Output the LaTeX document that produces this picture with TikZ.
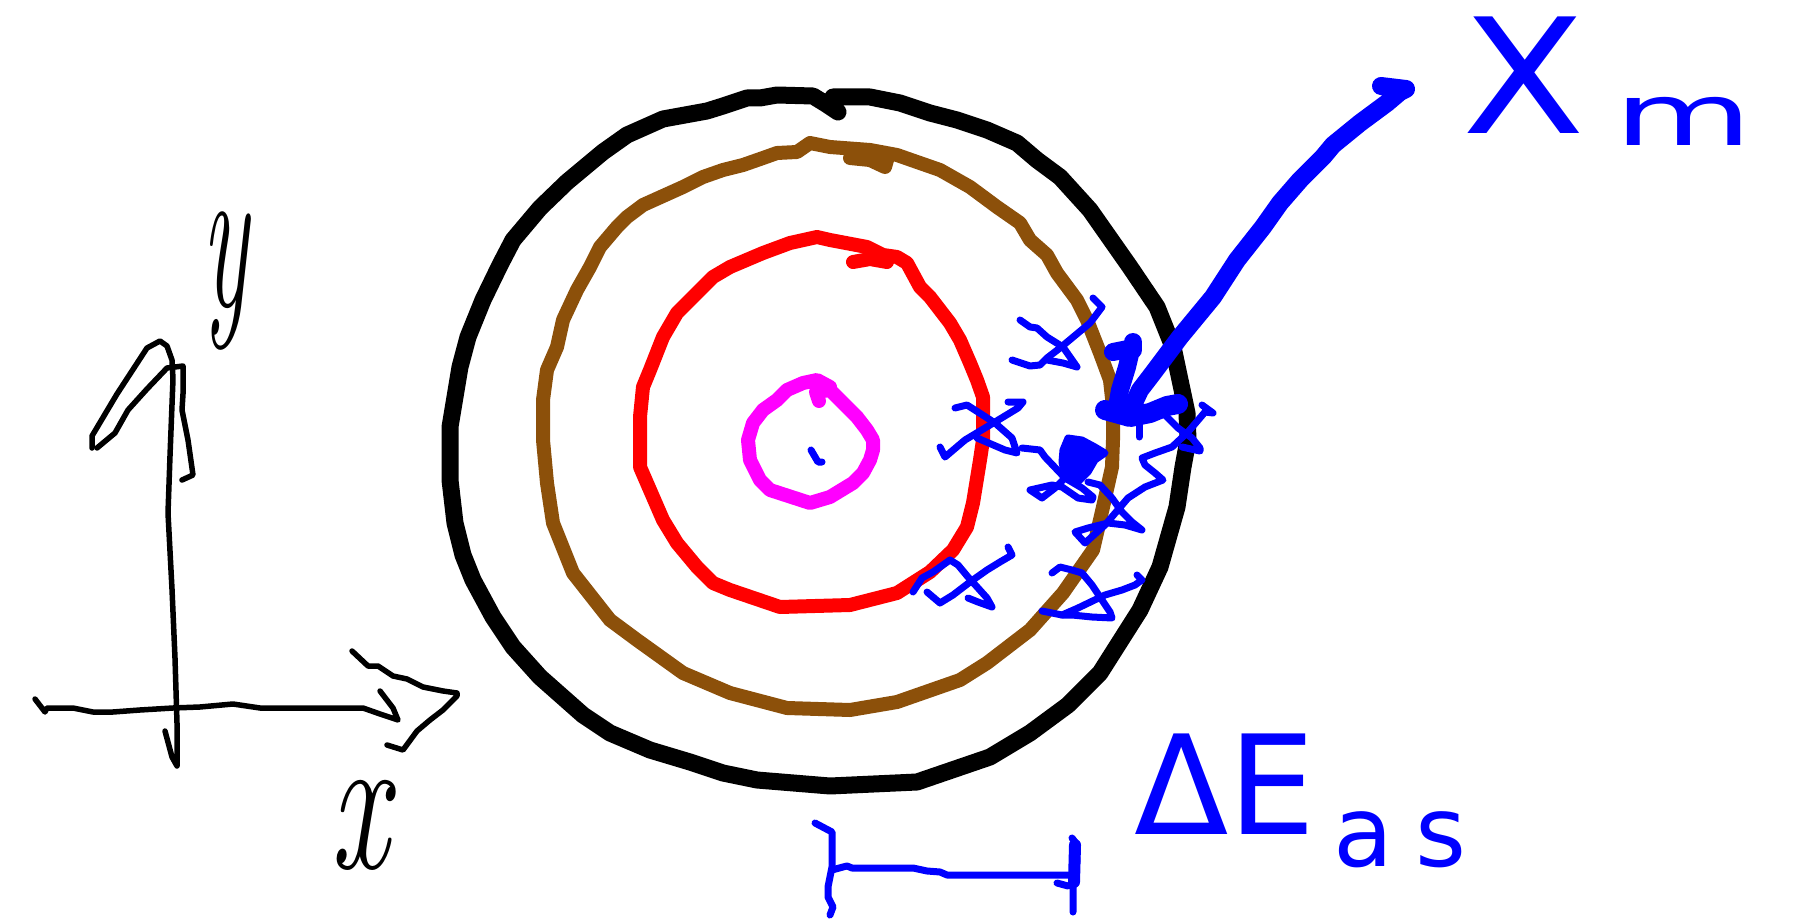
\documentclass[tikz,border=0pt]{standalone}
\usepackage{fontspec}
\newfontfamily\handsans{DejaVu Sans}
\definecolor{sketchbrown}{RGB}{140,80,10}
\definecolor{sketchmagenta}{RGB}{255,0,255}
\definecolor{sketchblue}{RGB}{0,0,255}
\definecolor{sketchred}{RGB}{255,0,0}
\begin{document}
\begin{tikzpicture}[x=1pt,y=-1pt,line cap=round,line join=round,
  outerring/.style={line width=17pt,black},
  midring/.style={line width=14pt,sketchbrown},
  innerring/.style={line width=14pt,sketchred},
  corering/.style={line width=14pt,sketchmagenta},
  pen/.style={line width=7pt,sketchblue},
  bigpen/.style={line width=18pt,sketchblue},
  axispen/.style={line width=5.5pt,black},
  lbl/.style={inner sep=0pt,outer sep=0pt}]
\useasboundingbox (0,0) rectangle (1797,920);

% outer black ring
\draw[outerring] plot coordinates {(838,112) (826,104) (813,96) (777,95) (760,98) (747,98) (723,106) (707,111) (663,119) (627,135) (603,152) (567,182) (540,208) (513,240) (500,265) (483,300) (468,337) (460,367) (455,397) (450,427) (450,480) (455,523) (463,555) (473,580) (493,617) (513,647) (540,677) (583,715) (610,733) (650,750) (690,762) (723,773) (757,780) (830,786) (917,782) (990,757) (1030,733) (1068,705) (1100,673) (1140,610) (1160,567) (1177,507) (1183,467) (1188,440) (1187,413) (1180,380) (1173,347) (1157,307) (1130,267) (1090,210) (1060,177) (1037,160) (1017,143) (987,130) (957,120) (930,113) (900,103) (870,97) (833,97)};

% brown ring
\draw[midring] plot coordinates {(850,158) (870,160) (885,167) (887,160)};
\draw[midring] plot coordinates {(897,155) (870,150) (830,147) (810,143) (797,152) (777,153) (763,158) (743,165) (723,170) (703,177) (683,187) (643,205) (627,217) (617,227) (600,247) (590,267) (577,290) (563,320) (557,347) (547,370) (543,400) (543,440) (547,483) (553,523) (573,573) (610,620) (637,640) (683,673) (730,693) (787,708) (850,710) (897,702) (960,680) (987,663) (1030,630) (1063,593) (1093,550) (1103,507) (1112,467) (1113,440) (1113,407) (1110,380) (1100,353) (1087,320) (1077,300) (1057,273) (1047,255) (1030,240) (1020,223) (997,207) (970,187) (940,170) (917,162) (897,155)};

% red ring
\draw[innerring] plot coordinates {(887,262) (870,259) (853,262)};
\draw[innerring] plot coordinates {(897,257) (883,255) (867,247) (830,240) (817,237) (790,243) (763,253) (730,267) (713,277) (697,293) (677,313) (663,337) (650,370) (643,387) (640,417) (640,467) (663,520) (677,543) (697,567) (713,583) (730,590) (780,607) (850,605) (897,593) (930,572) (953,550) (967,527) (973,503) (980,460) (983,440) (983,413) (983,397) (977,380) (970,363) (960,340) (950,323) (930,297) (920,287) (907,263) (897,257)};

% magenta ring
\draw[corering] plot coordinates {(819,401) (816,392) (830,390) (843,403) (857,417) (867,430) (873,440) (873,450) (870,460) (863,473) (853,483) (830,497) (810,503) (770,490) (760,480) (750,460) (748,440) (753,423) (763,410) (777,400) (787,390) (803,383) (817,380) (830,387)};

% centre tick
\draw[pen] (811,450) -- (818,462) -- (822,462);

% thin blue crosses
\draw[pen] plot coordinates {(1012,360) (1030,366) (1040,365) (1047,358) (1060,348) (1090,323) (1102,307) (1093,298)};
\draw[pen] plot coordinates {(1020,320) (1030,327) (1037,328) (1047,337) (1063,347) (1077,367) (1063,363) (1047,360)};
\draw[pen] plot coordinates {(940,447) (945,457) (965,440) (995,422) (1018,408) (1023,402) (1008,402)};
\draw[pen] plot coordinates {(955,408) (967,405) (978,412) (995,423) (1012,438) (1017,453) (1005,450) (977,438)};
\draw[pen] plot coordinates {(1022,448) (1040,450) (1045,457) (1065,478) (1082,488) (1093,497) (1092,500) (1078,498) (1062,487) (1052,485) (1030,490) (1042,498) (1055,488) (1065,478)};
\filldraw[pen,fill=sketchblue] (1068,438) -- (1082,440) -- (1095,447) -- (1105,453) -- (1095,460) -- (1088,472) -- (1078,482) -- (1065,477) -- (1062,462) -- (1063,450) -- cycle;
\draw[pen] plot coordinates {(1088,482) (1100,485) (1112,498) (1122,512) (1132,522) (1142,530) (1125,525) (1108,523) (1088,528) (1075,532) (1085,543) (1105,525) (1128,498) (1145,487) (1163,480) (1155,473) (1145,465) (1142,458) (1155,453) (1172,447) (1188,432) (1205,412) (1213,413) (1202,405)};
\draw[pen] plot coordinates {(1165,415) (1178,428) (1192,438) (1200,448) (1200,451) (1182,447)};
\draw[pen] plot coordinates {(913,592) (922,578) (933,572) (950,560) (958,565) (968,577) (978,588) (987,598) (992,607) (978,602) (968,598)};
\draw[pen] plot coordinates {(927,592) (940,603) (953,595) (970,582) (987,570) (1000,562) (1012,555) (1008,547)};
\draw[pen] plot coordinates {(1052,573) (1060,567) (1072,570) (1082,573) (1092,585) (1100,597) (1110,612) (1112,618) (1092,617) (1072,615) (1062,615) (1042,611)};
\draw[pen] plot coordinates {(1062,615) (1078,608) (1105,595) (1122,590) (1135,585) (1142,580) (1137,575)};

% thick blue pointer
\draw[bigpen] (1113,352) -- (1133,348);
\draw[bigpen] (1133,342) -- (1133,350);
\draw[bigpen] plot coordinates {(1131,350) (1127,367) (1120,390) (1117,407)};
\draw[line width=20pt,sketchblue] plot coordinates {(1105,410) (1130,417) (1150,413) (1167,406) (1178,404)};
\draw[pen] (1139,418) -- (1139,437);
\draw[bigpen] plot coordinates {(1133,405) (1140,390) (1153,373) (1180,337) (1213,297) (1237,260) (1263,227) (1280,203) (1300,180) (1323,157) (1333,145) (1360,123) (1387,103) (1400,92) (1406,89) (1381,86)};

% axes
\draw[axispen] plot coordinates {(92,448) (92,436) (117,394) (147,348) (160,341) (167,346) (172,360) (173,379) (170,456) (168,513) (172,589) (175,658) (177,723) (177,766) (172,757) (165,731)};
\draw[axispen] plot coordinates {(97,448) (115,433) (128,410) (147,389) (167,368) (183,366) (183,394) (182,410) (188,440) (193,475) (182,480)};
\draw[axispen] plot coordinates {(35,699) (45,712) (47,708) (73,708) (93,712) (113,712) (140,710) (173,708) (200,707) (233,704) (260,708) (363,708) (380,714) (398,720) (393,708) (380,691)};
\draw[axispen] plot coordinates {(352,651) (368,666) (378,666) (393,676) (407,679) (423,687) (443,691) (457,693) (457,696) (443,710) (430,720) (417,731) (403,750) (387,745)};

% scale bar
\draw[pen] plot coordinates {(815,823) (832,832) (832,867) (828,887) (828,897) (833,907) (830,915)};
\draw[pen] plot coordinates {(832,870) (843,867) (847,866) (852,868) (913,868) (927,871) (940,872) (947,875) (1070,875)};
\draw[pen] plot coordinates {(1072,838) (1075,842) (1077,860) (1073,887) (1073,900) (1073,912)};
\draw[line width=12pt,sketchblue] (1075,845) -- (1074,882);
\draw[pen] (1057,883) -- (1068,886);

% labels
\node[lbl,anchor=base west,text=sketchblue,font=\handsans\fontsize{160}{160}\selectfont,xscale=1.12] (xmX) at (1462,134) {X};
\node[lbl,anchor=base west,text=sketchblue,font=\handsans\fontsize{86}{86}\selectfont,xscale=1.65] (xmm) at (1614,146) {m};
\node[lbl,anchor=base west,text=sketchblue,font=\handsans\fontsize{138}{138}\selectfont] (dE) at (1134,834) {ΔE};
\node[lbl,anchor=base west,text=sketchblue,font=\handsans\fontsize{98}{98}\selectfont] (dEsub) at (1333,866) {a\kern 22pt s};
\node[lbl,text=black,font=\itshape\fontsize{215}{215}\selectfont,xscale=0.45] (ylab) at (225,281) {y};
\node[lbl,text=black,font=\itshape\fontsize{200}{200}\selectfont,xscale=0.65] (xlab) at (360,825) {x};
\end{tikzpicture}
\end{document}
